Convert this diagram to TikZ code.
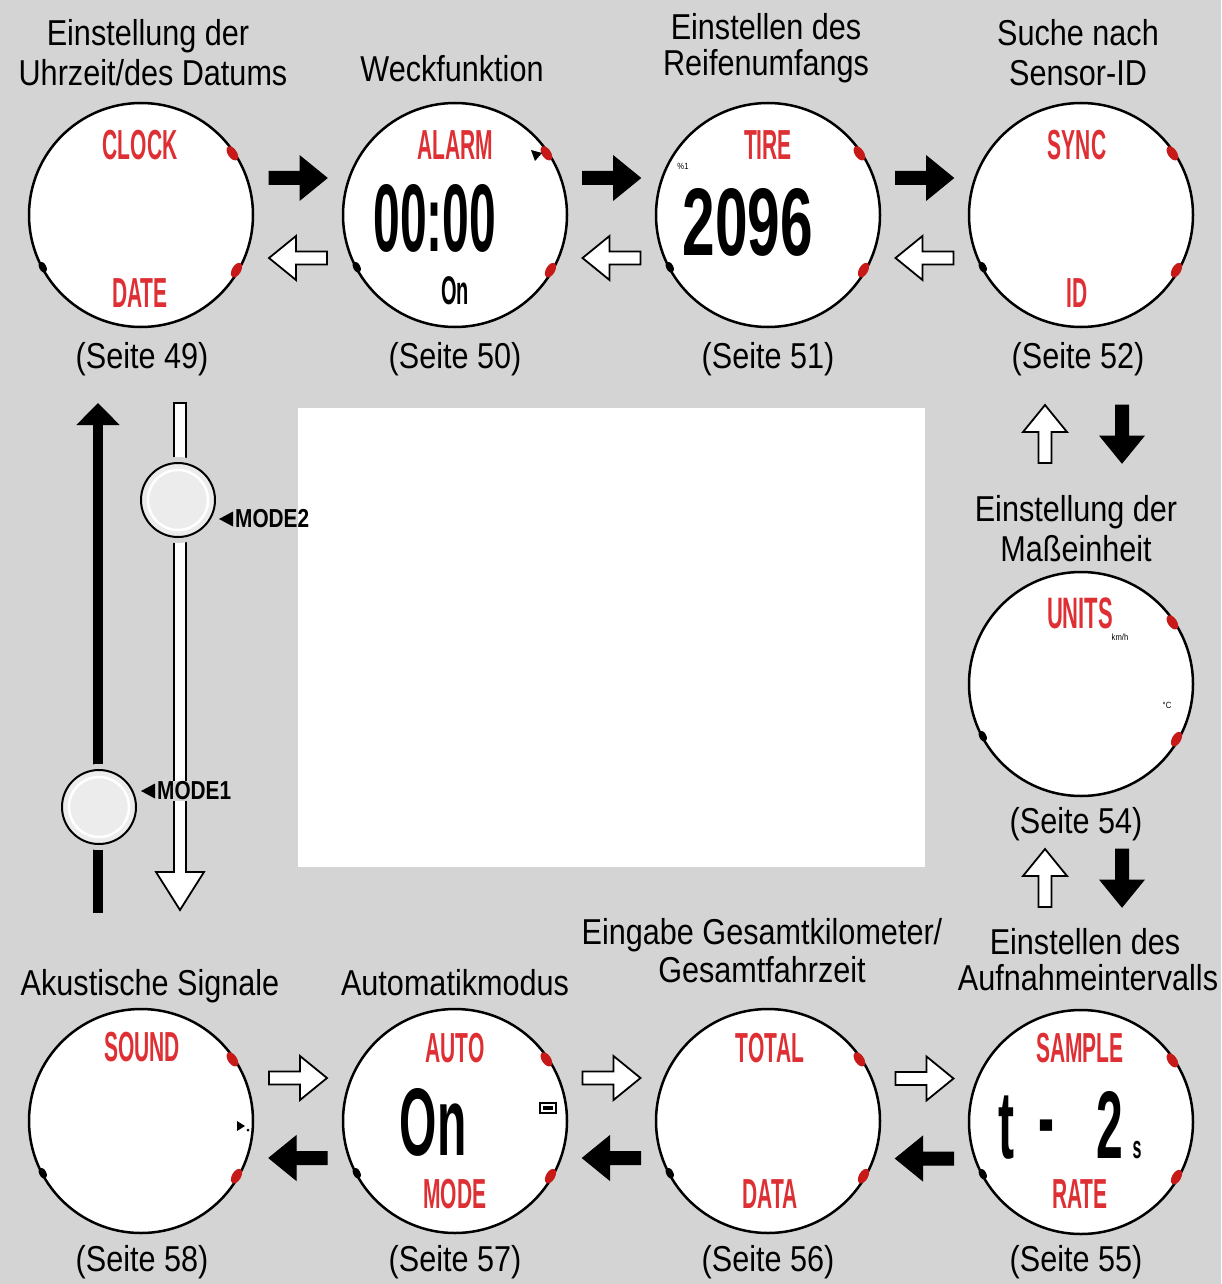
\documentclass[tikz,border=0pt]{standalone}
\usepackage{fontspec}
\setmainfont{Liberation Sans}[FakeStretch=0.85]
\newfontfamily\lcdfont{Liberation Sans}[FakeStretch=0.5]
\newfontfamily\lcdwide{Liberation Sans}[FakeStretch=0.61]
\newfontfamily\btnfont{Liberation Sans}[FakeStretch=0.8]
\usetikzlibrary{calc,arrows.meta}
\definecolor{bgc}{RGB}{212,212,212}
\definecolor{lcdred}{RGB}{222,48,52}
\definecolor{tickred}{RGB}{200,25,25}
\newcommand\wticks[1]{%
  \fill[tickred, shift={($(#1.34)!3pt!(#1.center)$)}, rotate=34] (0,0) ellipse (4.5pt and 8pt);
  \fill[tickred, shift={($(#1.-30)!3pt!(#1.center)$)}, rotate=-30] (0,0) ellipse (4.5pt and 8pt);
  \fill[black, shift={($(#1.208)!2pt!(#1.center)$)}, rotate=208] (0,0) ellipse (3.5pt and 6pt);}
\begin{document}
\begin{tikzpicture}[x=1pt,y=-1pt,
 ttl/.style={font=\fontsize{36}{40}\selectfont, inner sep=0, anchor=base},
 watch/.style={circle, draw=black, line width=2.5pt, fill=white, minimum size=224pt, inner sep=0},
 redw/.style={font=\lcdfont\bfseries\fontsize{42}{42}\selectfont, text=lcdred, inner sep=0, anchor=base},
 bigd/.style={font=\lcdfont\bfseries\fontsize{96}{96}\selectfont, inner sep=0, anchor=base},
 smd/.style={font=\lcdfont\bfseries\fontsize{40}{40}\selectfont, inner sep=0, anchor=base},
 tiny/.style={font=\fontsize{9}{9}\selectfont, inner sep=0},
 blk/.style={fill=black, draw=black, line width=1pt},
 wht/.style={fill=white, draw=black, line width=1.8pt},
 barrow/.pic={\path[pic actions] (-29,-6.5) -- (2,-6.5) -- (2,-22) -- (29,0) -- (2,22) -- (2,6.5) -- (-29,6.5) -- cycle;},
 btn/.style={circle, draw=black, line width=2pt, fill=gray!15, minimum size=74pt, inner sep=0},
 mlab/.style={font=\btnfont\bfseries\fontsize{26}{26}\selectfont, inner sep=1pt, anchor=west}
]
\fill[bgc] (0,0) rectangle (1221,1284);
\useasboundingbox (0,0) rectangle (1221,1284);

% central panel
\node[fill=white, minimum width=627pt, minimum height=459pt, inner sep=0] (panel) at (611.5,637.5) {};

% titles top
\node[ttl] (t1a) at (148,46) {Einstellung der};
\node[ttl] (t1b) at (153,86) {Uhrzeit/des Datums};
\node[ttl] (t2a) at (452,82) {Weckfunktion};
\node[ttl] (t3a) at (766,40) {Einstellen des};
\node[ttl] (t3b) at (766,76) {Reifenumfangs};
\node[ttl] (t4a) at (1078,46) {Suche nach};
\node[ttl] (t4b) at (1078,86) {Sensor-ID};
\node[ttl] (s49) at (142,368) {(Seite 49)};
\node[ttl] (s50) at (455,368) {(Seite 50)};
\node[ttl] (s51) at (768,368) {(Seite 51)};
\node[ttl] (s52) at (1078,368) {(Seite 52)};
% right column
\node[ttl] (t5a) at (1076,521) {Einstellung der};
\node[ttl] (t5b) at (1076,561) {Maßeinheit};
\node[ttl] (s54) at (1076,833) {(Seite 54)};
% bottom titles
\node[ttl] (t6a) at (1085,954) {Einstellen des};
\node[ttl] (t6b) at (1088,990) {Aufnahmeintervalls};
\node[ttl] (t7a) at (762,944) {Eingabe Gesamtkilometer/};
\node[ttl] (t7b) at (762,982) {Gesamtfahrzeit};
\node[ttl] (t8a) at (150,995) {Akustische Signale};
\node[ttl] (t9a) at (455,995) {Automatikmodus};
\node[ttl] (s58) at (142,1271) {(Seite 58)};
\node[ttl] (s57) at (455,1271) {(Seite 57)};
\node[ttl] (s56) at (768,1271) {(Seite 56)};
\node[ttl] (s55) at (1076,1271) {(Seite 55)};

% watches
\node[watch] (w1) at (141,215) {};
\node[watch] (w2) at (455,215) {};
\node[watch] (w3) at (768,215) {};
\node[watch] (w4) at (1081,215) {};
\node[watch] (w5) at (1081,684) {};
\node[watch] (w6) at (1081,1122) {};
\node[watch] (w7) at (768,1121) {};
\node[watch] (w8) at (455,1121) {};
\node[watch] (w9) at (141,1121) {};
\foreach \w in {w1,w2,w3,w4,w5,w6,w7,w8,w9}{\wticks{\w}}

% watch contents
\node[redw] (c1a) at (140,160) {CLOCK};
\node[redw] (c1b) at (140,307) {DATE};
\node[redw] (c2a) at (455,160) {ALARM};
\node[bigd] (c2b) at (435,251) {00:00};
\node[smd] (c2c) at (455,304) {On};
\fill (531,150) -- (542,153) -- (535,161) -- cycle;
\node[redw] (c3a) at (768,160) {TIRE};
\node[bigd, font=\lcdwide\bfseries\fontsize{96}{96}\selectfont] (c3b) at (748,255) {2096};
\node[tiny] (c3c) at (683,166) {\%1};
\node[redw] (c4a) at (1077,160) {SYNC};
\node[redw] (c4b) at (1077,307) {ID};
\node[redw, font=\lcdfont\bfseries\fontsize{44}{44}\selectfont] (c5a) at (1080,628) {UNITS};
\node[tiny] (c5b) at (1120,637) {km/h};
\node[tiny] (c5c) at (1167,705) {°C};
\node[redw] (c6a) at (1080,1062) {SAMPLE};
\node[bigd] (c6b) at (1006,1158) {t};
\node[bigd] (c6c) at (1046,1150) {-};
\node[bigd] (c6d) at (1110,1158) {2};
\node[smd, font=\lcdfont\bfseries\fontsize{32}{32}\selectfont] (c6e) at (1137,1158) {s};
\node[redw] (c6f) at (1080,1208) {RATE};
\node[redw] (c7a) at (770,1062) {TOTAL};
\node[redw] (c7b) at (770,1208) {DATA};
\node[redw] (c8a) at (455,1062) {AUTO};
\node[bigd] (c8b) at (433,1155) {On};
\node[redw] (c8c) at (455,1208) {MODE};
\draw[line width=1.2pt, fill=white] (540,1103) rectangle (556,1113);
\fill (543,1106) rectangle (553,1110);
\node[redw] (c9a) at (142,1061) {SOUND};
\fill (237,1121) -- (245,1126) -- (237,1131) -- cycle;
\fill (248,1130) circle (1.5pt);

% horizontal arrows top row
\pic[blk] at ($(w1)!0.5!(w2)+(0,-37)$) {barrow};
\pic[wht, rotate=180] at ($(w1)!0.5!(w2)+(0,43)$) {barrow};
\pic[blk] at ($(w2)!0.5!(w3)+(0,-37)$) {barrow};
\pic[wht, rotate=180] at ($(w2)!0.5!(w3)+(0,43)$) {barrow};
\pic[blk] at ($(w3)!0.5!(w4)+(0,-37)$) {barrow};
\pic[wht, rotate=180] at ($(w3)!0.5!(w4)+(0,43)$) {barrow};
% bottom row
\pic[wht] at ($(w9)!0.5!(w8)+(0,-43)$) {barrow};
\pic[blk, rotate=180] at ($(w9)!0.5!(w8)+(0,37)$) {barrow};
\pic[wht] at ($(w8)!0.5!(w7)+(0,-43)$) {barrow};
\pic[blk, rotate=180] at ($(w8)!0.5!(w7)+(0,37)$) {barrow};
\pic[wht] at ($(w7)!0.5!(w6)+(0,-43)$) {barrow};
\pic[blk, rotate=180] at ($(w7)!0.5!(w6)+(0,37)$) {barrow};
% right column
\pic[wht, rotate=90] at (1045,434) {barrow};
\pic[blk, rotate=-90] at (1122,434) {barrow};
\pic[wht, rotate=90] at (1045,878) {barrow};
\pic[blk, rotate=-90] at (1122,878) {barrow};

% left column
\coordinate (upbot) at (98,913);
\coordinate (uptop) at (98,403);
\draw[line width=10pt, -{Triangle[width=42pt,length=22pt]}] (upbot) -- (uptop);
\filldraw[wht] (174,403) -- (174,872) -- (156,872) -- (180,910) -- (204,872) -- (186,872) -- (186,403) -- cycle;

\fill[bgc] (178,500) circle (43pt);
\node[btn] (b2) at (178,500) {};
\draw[white, line width=2.5pt] (b2.center) circle (30pt);
\fill[bgc] (99,807) circle (43pt);
\node[btn] (b1) at (99,807) {};
\draw[white, line width=2.5pt] (b1.center) circle (30pt);

\node[mlab] (l2) at (234,519) {MODE2};
\fill ($(l2.west)+(-15,0)$) -- ++(14,-7.5) -- ++(0,15) -- cycle;
\node[mlab, fill=bgc] (l1) at (156,791) {MODE1};
\fill ($(l1.west)+(-15,0)$) -- ++(14,-7.5) -- ++(0,15) -- cycle;
\end{tikzpicture}
\end{document}
